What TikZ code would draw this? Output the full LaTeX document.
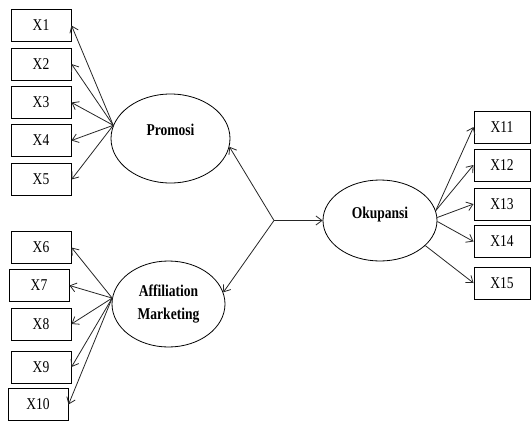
\documentclass[tikz,border=0pt]{standalone}
\usepackage{fontspec}
\setmainfont{Liberation Serif}
\newfontfamily\narrowfont[FakeStretch=0.82]{Liberation Serif}
\usetikzlibrary{shapes.geometric,arrows.meta}

\tikzset{
    ind/.style={draw, line width=1pt, minimum width=60pt, minimum height=32pt, inner sep=0pt,
        font=\narrowfont\fontsize{16.5}{19}\selectfont},
    lat/.style={draw, ellipse, line width=0.8pt, inner sep=0pt, align=center,
        font=\narrowfont\bfseries\fontsize{16.5}{23}\selectfont},
    arr/.style={-{Straight Barb[length=6pt,width=9pt]}, line width=0.8pt, draw=black!85}
}

\begin{document}
\begin{tikzpicture} [x=1pt, y=-1pt]
                        \useasboundingbox (0,0) rectangle (531,421);

                        % Latent
                        \node [lat, minimum width=119pt, minimum height=89pt, text depth=18pt] (pro) at (170.5,138.5) {Promosi};
                        \node [lat, minimum width=113pt, minimum height=86pt] (aff) at (168.5,304) {Affiliation\\Marketing};
                        \node [lat, minimum width=114pt, minimum height=81pt, text depth=16pt] (oku) at (380,220.5) {Okupansi};
                        \coordinate (j) at (274,220.5);

                        % Indicators left
                        \node [ind] (x1) at (41,25.5) {X1};
                        \node [ind] (x2) at (41,64) {X2};
                        \node [ind] (x3) at (41,102.5) {X3};
                        \node [ind] (x4) at (41,140.5) {X4};
                        \node [ind] (x5) at (41,179.5) {X5};
                        \node [ind] (x6) at (41,247.5) {X6};
                        \node [ind] (x7) at (39,285.5) {X7};
                        \node [ind] (x8) at (41,324) {X8};
                        \node [ind] (x9) at (41,367) {X9};
                        \node [ind] (x10) at (38,404.5) {X10};

                        % Indicators right
                        \node [ind, minimum width=56pt] (x11) at (502,127) {X11};
                        \node [ind, minimum width=56pt] (x12) at (502,165) {X12};
                        \node [ind, minimum width=56pt] (x13) at (502,204) {X13};
                        \node [ind, minimum width=56pt] (x14) at (502,241.5) {X14};
                        \node [ind, minimum width=56pt] (x15) at (502,283) {X15};

                        % Loadings
                        \foreach \i in {1,...,5}
                            \draw [arr] (pro.167) -- (x\i.east);
                        \foreach \i in {6,...,10}
                            \draw [arr] (aff.174) -- (x\i.east);
                        \draw [arr] (oku.10) -- (x11.west);
                        \draw [arr] (oku.10) -- (x12.west);
                        \draw [arr] (oku.3.5) -- (x13.west);
                        \draw [arr] (oku.-1.5) -- (x14.west);
                        \draw [arr] (oku.-29) -- (x15.west);

                        % Paths
                        \draw [arr] (j) -- (pro.-8.6);
                        \draw [arr] (j) -- (aff.12);
                        \draw [arr] (j) -- (oku.west);
                    \end{tikzpicture}
\end{document}
